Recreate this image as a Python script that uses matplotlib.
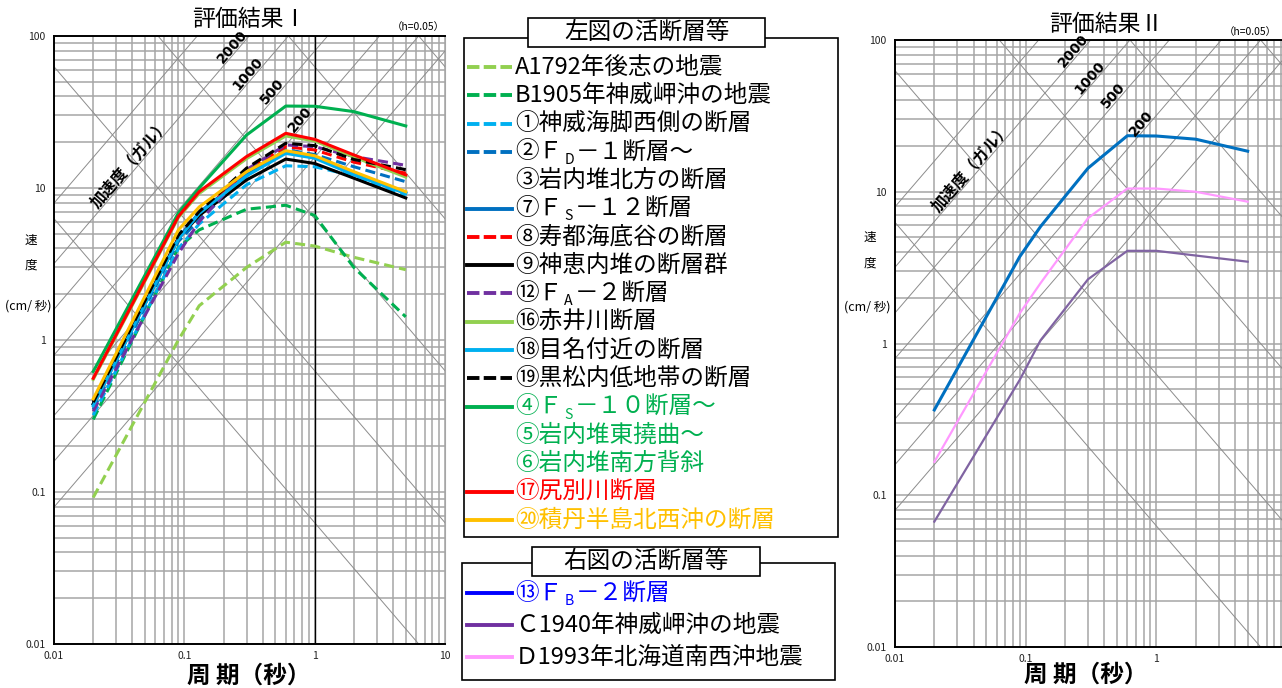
import numpy as np
import matplotlib
matplotlib.use('Agg')
import matplotlib.pyplot as plt
from matplotlib.ticker import LogLocator, FixedLocator, FixedFormatter, NullFormatter
from matplotlib.patches import Rectangle

plt.rcParams['font.family'] = ['Noto Sans CJK JP', 'DejaVu Sans']

# periods (s) of the spectrum control points
periods = [0.02, 0.09, 0.13, 0.3, 0.6, 1.0, 2.0, 5.0]

# left figure - velocity (cm/s)
v_A1792 = [0.092, 1.0, 1.68, 3.0, 4.4, 4.15, 3.5, 2.9]
v_B1905 = [0.30, 4.05, 5.3, 7.25, 7.7, 6.6, 3.0, 1.42]
v_f01 = [0.32, 4.0, 5.8, 10.5, 14.0, 13.8, 12.0, 9.0]
v_f02 = [0.35, 4.45, 6.2, 12.0, 17.9, 16.6, 13.8, 11.0]
v_f07 = [0.38, 4.7, 6.9, 12.2, 17.2, 16.0, 12.5, 9.3]
v_f08 = [0.37, 4.7, 6.6, 13.0, 18.7, 17.8, 14.8, 12.5]
v_f09 = [0.38, 4.65, 6.6, 11.3, 15.5, 14.5, 11.6, 8.6]
v_f12 = [0.34, 3.7, 6.0, 13.2, 19.2, 18.7, 16.1, 14.1]
v_f16 = [0.55, 6.4, 9.2, 15.6, 22.0, 20.4, 16.0, 11.8]
v_f18 = [0.37, 4.6, 6.8, 12.0, 16.9, 15.7, 12.2, 9.2]
v_f19 = [0.39, 4.9, 7.0, 13.5, 19.7, 19.0, 15.4, 13.2]
v_f04 = [0.62, 6.85, 10.0, 22.3, 34.6, 34.5, 31.8, 25.6]
v_f17 = [0.56, 6.5, 9.46, 16.1, 22.9, 20.9, 16.5, 12.2]
v_f20 = [0.41, 5.3, 7.5, 12.8, 17.6, 16.3, 12.8, 9.46]

# right figure
v_f13 = [0.365, 3.73, 5.9, 14.3, 23.4, 23.3, 22.2, 18.5]
v_C1940 = [0.067, 0.575, 1.05, 2.65, 4.08, 4.08, 3.8, 3.46]
v_D1993 = [0.166, 1.58, 2.5, 6.7, 10.5, 10.5, 10.0, 8.6]

# (legend lines, values, line colour, style, text colour)
left_series = [
    (['A1792年後志の地震'], v_A1792, '#92D050', 'dash', 'black'),
    (['B1905年神威岬沖の地震'], v_B1905, '#00B050', 'dash', 'black'),
    (['①神威海脚西側の断層'], v_f01, '#00B0F0', 'dash', 'black'),
    (['②Ｆ|D|－１断層～', '③岩内堆北方の断層'], v_f02, '#0070C0', 'dash', 'black'),
    (['⑦Ｆ|S|－１２断層'], v_f07, '#0070C0', 'solid', 'black'),
    (['⑧寿都海底谷の断層'], v_f08, '#FF0000', 'dash', 'black'),
    (['⑨神恵内堆の断層群'], v_f09, 'black', 'solid', 'black'),
    (['⑫Ｆ|A|－２断層'], v_f12, '#7030A0', 'dash', 'black'),
    (['⑯赤井川断層'], v_f16, '#92D050', 'solid', 'black'),
    (['⑱目名付近の断層'], v_f18, '#00B0F0', 'solid', 'black'),
    (['⑲黒松内低地帯の断層'], v_f19, 'black', 'dash', 'black'),
    (['④Ｆ|S|－１０断層～', '⑤岩内堆東撓曲～', '⑥岩内堆南方背斜'], v_f04, '#00B050', 'solid', '#00B050'),
    (['⑰尻別川断層'], v_f17, '#FF0000', 'solid', '#FF0000'),
    (['⑳積丹半島北西沖の断層'], v_f20, '#FFC000', 'solid', '#FFC000'),
]
right_series = [
    (['⑬Ｆ|B|－２断層'], v_f13, '#0070C0', 'solid', '#0000FF'),
    (['Ｃ1940年神威岬沖の地震'], v_C1940, '#8064A2', 'solid', 'black'),
    (['Ｄ1993年北海道南西沖地震'], v_D1993, '#FF99FF', 'solid', 'black'),
]
right_widths = [2.2, 1.6, 1.6]
right_handle = ['#0000FF', '#7030A0', '#FF99FF']

# tripartite guide lines
accel_lines = [50, 100, 200, 500, 1000, 2000, 5000]   # gal
disp_lines = [0.01, 0.1, 1, 10, 100]                  # cm
accel_labels = ['2000', '1000', '500', '200']
accel_label_T = [0.232, 0.31, 0.47, 0.77]

fig = plt.figure(figsize=(12.82, 6.88), dpi=100)
axL = fig.add_axes([54/1282, 44/688, 391/1282, 608/688])
axR = fig.add_axes([895/1282, 41/688, 392/1282, 607/688])


def draw_panel(ax, dark_one, xlabels):
    ax.set_xscale('log')
    ax.set_yscale('log')
    T = np.logspace(-2, 1, 60)
    for a in accel_lines:
        ax.plot(T, a * T / (2 * np.pi), color='#8c8c8c', lw=0.7, zorder=1)
    for d in disp_lines:
        ax.plot(T, 2 * np.pi * d / T, color='#8c8c8c', lw=0.7, zorder=1)
    ax.set_xlim(0.01, 10)
    ax.set_ylim(0.01, 100)
    ax.xaxis.set_major_locator(FixedLocator([0.01, 0.1, 1, 10]))
    ax.xaxis.set_major_formatter(FixedFormatter(xlabels))
    ax.yaxis.set_major_locator(FixedLocator([0.01, 0.1, 1, 10, 100]))
    ax.yaxis.set_major_formatter(FixedFormatter(['0.01', '0.1', '1', '10', '100']))
    for axis in (ax.xaxis, ax.yaxis):
        axis.set_minor_locator(LogLocator(base=10, subs=np.arange(2, 10)))
        axis.set_minor_formatter(NullFormatter())
    ax.grid(which='both', color='#a6a6a6', lw=1.1, zorder=0)
    ax.set_axisbelow(True)
    ax.tick_params(which='both', length=0, labelsize=7.5, colors='#222222')
    ax.tick_params(axis='x', pad=5)
    ax.tick_params(axis='y', pad=6)
    for s in ['left', 'bottom', 'top']:
        ax.spines[s].set_color('black')
        ax.spines[s].set_linewidth(1.4)
    ax.spines['right'].set_color('#a6a6a6')
    if dark_one:
        ax.axvline(1, color='black', lw=1.0, zorder=1)

    # acceleration labels along the lines
    p0 = ax.transData.transform((0.1, 1.0))
    p1 = ax.transData.transform((1.0, 10.0))
    ang = np.degrees(np.arctan2(p1[1] - p0[1], p1[0] - p0[0]))
    for lab, t in zip(accel_labels, accel_label_T):
        v = float(lab) * t / (2 * np.pi) * 1.15
        ax.text(t, v, lab, rotation=ang, ha='center', va='center', fontsize=10,
                fontweight='bold', family=['DejaVu Sans'], rotation_mode='anchor', zorder=5)
    ax.text(0.0383, 14.6, '加速度（ガル）', rotation=ang, ha='center', va='center',
            fontsize=11.5, fontweight='bold', rotation_mode='anchor', zorder=5)


def dashes_for(style):
    return (3.3, 1.7) if style == 'dash' else ()


draw_panel(axL, True, ['0.01', '0.1', '1', '10'])
draw_panel(axR, False, ['0.01', '0.1', '1', ''])

for lines, vals, col, st, tcol in left_series:
    l, = axL.plot(periods, vals, color=col, lw=2.2, zorder=3)
    if st == 'dash':
        l.set_dashes(dashes_for(st))

for (lines, vals, col, st, tcol), w in zip(right_series, right_widths):
    axR.plot(periods, vals, color=col, lw=w, zorder=3)

# overlay in pixel coordinates for titles, labels and legend boxes
ov = fig.add_axes([0, 0, 1, 1], zorder=10)
ov.set_xlim(0, 1282)
ov.set_ylim(688, 0)
ov.axis('off')
ov.patch.set_visible(False)
renderer = fig.canvas.get_renderer()

ov.text(249, 19, '評価結果Ⅰ', ha='center', va='center', fontsize=16.5)
ov.text(1106, 24, '評価結果Ⅱ', ha='center', va='center', fontsize=16.5)
ov.text(445, 27, '（h=0.05）', ha='right', va='center', fontsize=7.5)
ov.text(1277, 32, '（h=0.05）', ha='right', va='center', fontsize=7.5)

for x0, ys in [(31, (240, 265, 306)), (870, (237, 263, 307))]:
    ov.text(x0, ys[0], '速', ha='center', va='center', fontsize=9)
    ov.text(x0, ys[1], '度', ha='center', va='center', fontsize=9)
    ov.text(x0 - 3, ys[2], '(cm/ 秒)', ha='center', va='center', fontsize=9)

ov.text(249, 676, '周 期（秒）', ha='center', va='center', fontsize=17, fontweight='bold')
ov.text(1086, 675, '周 期（秒）', ha='center', va='center', fontsize=17, fontweight='bold')


def put_label(x, y, text, color, size=17):
    parts = text.split('|')
    for i, p in enumerate(parts):
        if i % 2 == 1:
            t = ov.text(x + 2, y + 8, p, fontsize=size * 0.6, color=color, va='center', ha='left')
            x += 4
        else:
            t = ov.text(x, y, p, fontsize=size, color=color, va='center', ha='left')
        x += t.get_window_extent(renderer).width


def legend_box(x0, y0, w, h, tx0, ty0, tw, th, title):
    ov.add_patch(Rectangle((x0, y0), w, h, fill=False, ec='black', lw=1.2))
    ov.add_patch(Rectangle((tx0, ty0), tw, th, fc='white', ec='black', lw=1.2, zorder=3))
    ov.text(tx0 + tw / 2, ty0 + th / 2, title, ha='center', va='center', fontsize=17, zorder=4)


legend_box(464, 38, 374, 499, 528, 18, 237, 29, '左図の活断層等')
row = 0
for lines, vals, col, st, tcol in left_series:
    y = 67 + 28.3 * row
    h, = ov.plot([467, 512], [y, y], color=col, lw=2.8)
    if st == 'dash':
        h.set_dashes((3.2, 1.1))
    for k, txt in enumerate(lines):
        put_label(515, 67 + 28.3 * (row + k), txt, tcol)
    row += len(lines)

legend_box(462, 563, 373, 117, 532, 547, 228, 29, '右図の活断層等')
for i, ((lines, vals, col, st, tcol), hc) in enumerate(zip(right_series, right_handle)):
    y = 593 + 32 * i
    ov.plot([467, 512], [y, y], color=hc, lw=2.8)
    put_label(515, y, lines[0], tcol)

fig.savefig('out.png', dpi=100)
